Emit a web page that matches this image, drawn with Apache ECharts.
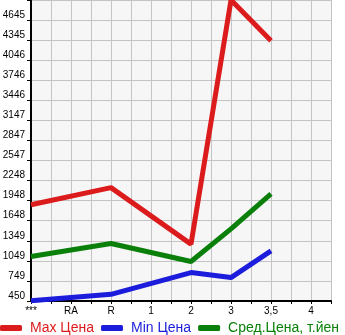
<!DOCTYPE html>
<html>
<head>
<meta charset="utf-8">
<script src="https://cdn.jsdelivr.net/npm/echarts@6/dist/echarts.min.js"></script>
<style>html,body{margin:0;padding:0;background:#fff}#c{width:345px;height:335px}</style>
</head>
<body>
<div id="c"></div>
<script>
var categories = ["***", "", "RA", "", "R", "", "1", "", "2", "", "3", "", "3,5", "", "4", ""];
var maxPrice = [1888, null, null, null, 2143, null, null, null, 1299, null, 4944, null, 4334, null, null, null];
var minPrice = [455, null, null, null, 550, null, null, null, 874, null, 800, null, 1199, null, null, null];
var avgPrice = [1114, null, null, null, 1308, null, null, null, 1039, null, 1526, null, 2048, null, null, null];
var yTickLabels = ["450", "749", "1049", "1349", "1648", "1948", "2248", "2547", "2847", "3147", "3446", "3746", "4046", "4345", "4645", ""];
var yBase = 450;
var yStep = 299.6;
var seriesNames = ["Max Цена", "Min Цена", "Сред.Цена, т.йен"];
var colors = ["#dc1c1c", "#1c1cdc", "#0a800a"];

function shift(arr) { return arr.map(function (v) { return v == null ? null : v - yBase; }); }

var chart = echarts.init(document.getElementById('c'), null, {renderer: 'canvas'});
var font = 'Liberation Sans';
chart.setOption({
  animation: false,
  backgroundColor: '#ffffff',
  grid: {left: 31, right: 14, top: 0, bottom: 34, show: true, backgroundColor: '#f6f6f6', borderWidth: 0, containLabel: false, outerBoundsMode: 'none'},
  legend: {
    left: 0, top: 321, width: 600, itemWidth: 22, itemHeight: 6, itemGap: 7,
    icon: 'roundRect', padding: 0,
    data: seriesNames.map(function (n, i) { return {name: n, textStyle: {color: colors[i]}}; }),
    textStyle: {fontFamily: font, fontSize: 14, padding: [0, 0, 0, 3]}
  },
  xAxis: {
    type: 'category', data: categories, boundaryGap: false,
    axisLine: {lineStyle: {color: '#000', width: 2}},
    axisTick: {show: true, interval: 0, length: 3, lineStyle: {color: '#000', width: 1}},
    axisLabel: {interval: 0, color: '#000', fontFamily: font, fontSize: 10, margin: 5},
    splitLine: {show: true, interval: 0, lineStyle: {color: '#c4c4c4', width: 1}}
  },
  yAxis: {
    type: 'value', min: 0, max: yStep * 15, interval: yStep,
    axisLine: {show: true, lineStyle: {color: '#000', width: 2}},
    axisTick: {show: true, length: 4, lineStyle: {color: '#000', width: 1}},
    axisLabel: {
      color: '#000', fontFamily: font, fontSize: 10, margin: 6, verticalAlign: 'bottom',
      formatter: function (v, i) { return yTickLabels[i] || ''; }
    },
    splitLine: {show: true, lineStyle: {color: '#c4c4c4', width: 1}}
  },
  series: [
    {name: seriesNames[0], type: 'line', data: shift(maxPrice), connectNulls: true, symbol: 'none', lineStyle: {width: 5, color: colors[0]}, itemStyle: {color: colors[0]}},
    {name: seriesNames[1], type: 'line', data: shift(minPrice), connectNulls: true, symbol: 'none', lineStyle: {width: 5, color: colors[1]}, itemStyle: {color: colors[1]}},
    {name: seriesNames[2], type: 'line', data: shift(avgPrice), connectNulls: true, symbol: 'none', lineStyle: {width: 5, color: colors[2]}, itemStyle: {color: colors[2]}}
  ]
});
</script>
</body>
</html>
